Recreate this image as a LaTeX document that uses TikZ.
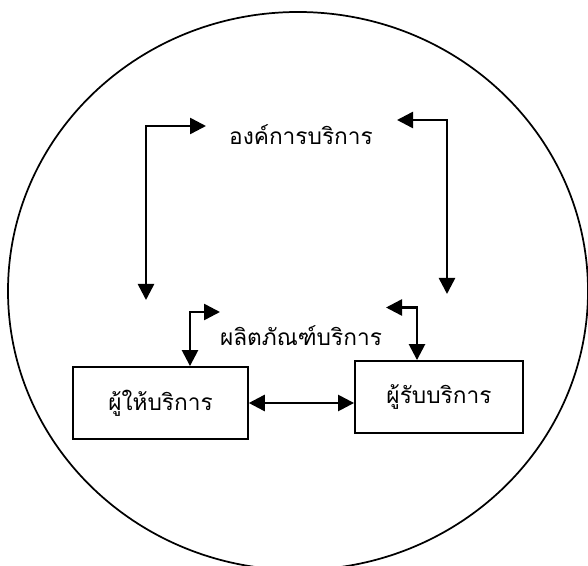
\documentclass[tikz,border=0pt]{standalone}
\usepackage{fontspec}
\newfontfamily\thaifont[Script=Thai]{Loma}
\usetikzlibrary{arrows.meta}
\tikzset{
  lbl/.style={font=\thaifont\fontsize{17}{20}\selectfont, inner sep=0pt},
  actor/.style={draw, line width=1.4pt, minimum height=54pt, font=\thaifont\fontsize{17}{20}\selectfont},
  dlink/.style={line width=1.9pt, {Triangle[length=12pt,width=12pt]}-{Triangle[length=12pt,width=12pt]}}
}
\begin{document}
\begin{tikzpicture}[x=0.75pt,y=-0.75pt]
    \useasboundingbox (0,0) rectangle (588,566);
    \clip (0,0) rectangle (588,566);
    % outer ellipse
    \draw[line width=1.3pt] (298,291) ellipse [x radius=290, y radius=279];
    % labels
    \node[lbl] (org) at (301,135) {องค์การบริการ};
    \node[lbl] (prod) at (301,336) {ผลิตภัณฑ์บริการ};
    % boxes
    \node[actor, minimum width=131pt] (giver) at (160.5,403) {ผู้ให้บริการ};
    \node[actor, minimum width=126pt] (taker) at (439,397) {ผู้รับบริการ};
    % free ends
    \coordinate (orgL) at (206,126);
    \coordinate (orgR) at (397,120);
    \coordinate (downL) at (146,300);
    \coordinate (downR) at (447,294);
    \coordinate (prodL) at (220,312);
    \coordinate (prodR) at (386,307.5);
    % organisation arrows
    \draw[dlink] (downL) |- (orgL);
    \draw[dlink] (downR) |- (orgR);
    % product arrows
    \draw[dlink] (giver.north -| 190,0) |- (prodL);
    \draw[dlink] (taker.north -| 417,0) |- (prodR);
    % between boxes
    \draw[dlink] (giver) -- (taker.west |- giver);
\end{tikzpicture}
\end{document}
